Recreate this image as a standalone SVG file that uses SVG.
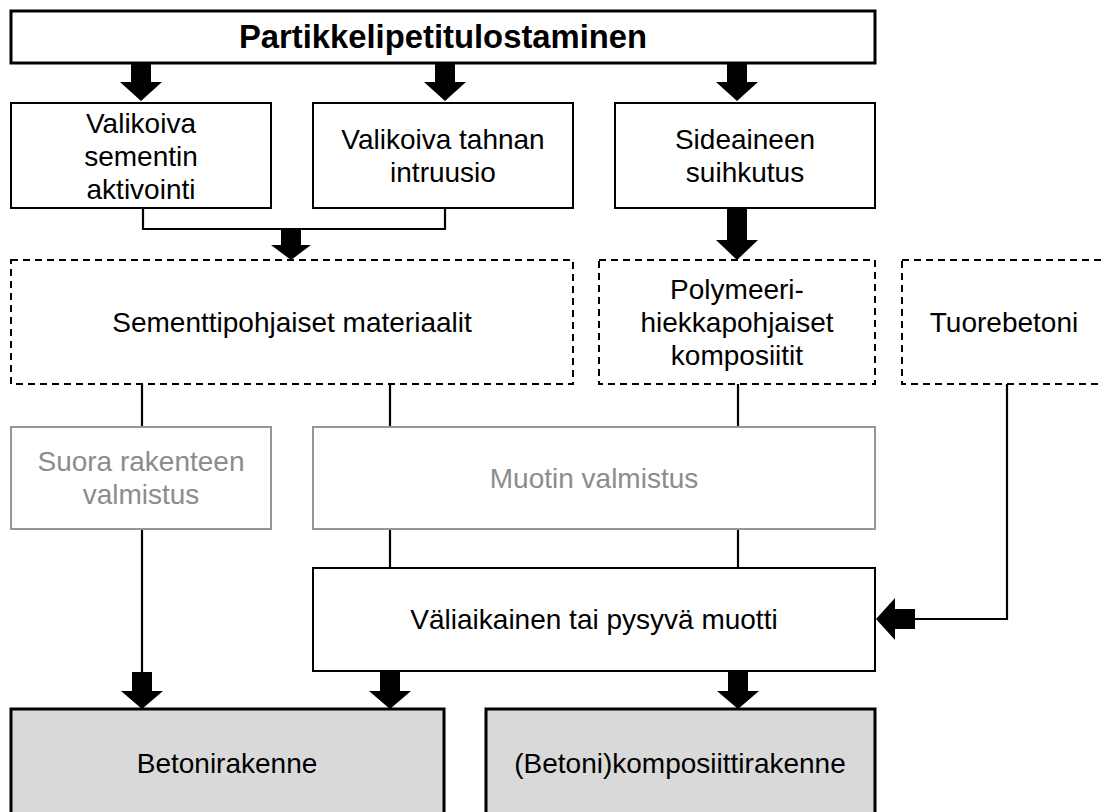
<svg xmlns="http://www.w3.org/2000/svg" width="1103" height="812" viewBox="0 0 1103 812">
<style>
text{font-family:"Liberation Sans",Arial,sans-serif;font-size:28px;fill:#000;text-anchor:middle}
.title{font-weight:bold;font-size:32.8px}
.box{fill:#fff;stroke:#000;stroke-width:2}
.thick{fill:#fff;stroke:#000;stroke-width:3}
.dash{fill:#fff;stroke:#000;stroke-width:2;stroke-dasharray:7 5}
.gray{fill:#fff;stroke:#969696;stroke-width:2}
.grayt{fill:#8c8c8c}
.result{fill:#d9d9d9;stroke:#000;stroke-width:3}
.line{fill:none;stroke:#000;stroke-width:2.2}
.arrow{fill:#000;stroke:none}
</style>
<rect width="1103" height="812" fill="#fff"/>
<g id="connectors">
<polyline class="line" points="143,208 143,229 445,229 445,208"/>
<line class="line" x1="142" y1="384" x2="142" y2="426"/>
<line class="line" x1="390" y1="384" x2="390" y2="426"/>
<line class="line" x1="738" y1="384" x2="738" y2="426"/>
<line class="line" x1="142" y1="529" x2="142" y2="673"/>
<line class="line" x1="390" y1="529" x2="390" y2="568"/>
<line class="line" x1="738" y1="529" x2="738" y2="568"/>
<polyline class="line" points="1007,384 1007,619 914,619"/>
<polygon class="arrow" points="131,63 151,63 151,82 162,82 141,101 120,82 131,82"/>
<polygon class="arrow" points="435,63 455,63 455,82 466,82 445,101 424,82 435,82"/>
<polygon class="arrow" points="727,63 747,63 747,82 758,82 737,101 716,82 727,82"/>
<polygon class="arrow" points="281,229 301,229 301,245 311,245 291,260 271,245 281,245"/>
<polygon class="arrow" points="727,208 747,208 747,240 758,240 737,260 716,240 727,240"/>
<polygon class="arrow" points="132,672 152,672 152,691 163,691 142,709 121,691 132,691"/>
<polygon class="arrow" points="380,671 400,671 400,691 411,691 390,709 369,691 380,691"/>
<polygon class="arrow" points="728,671 748,671 748,691 759,691 738,709 717,691 728,691"/>
<polygon class="arrow" points="915,609 915,629 895,629 895,640 876,619 895,598 895,609"/>
</g>
<g id="n-title">
<rect class="thick" x="11" y="11" width="864" height="52"/>
<text class="title" x="443" y="48">Partikkelipetitulostaminen</text>
</g>
<g id="n-aktivointi">
<rect class="box" x="11" y="103" width="260" height="105"/>
<text x="141" y="133">Valikoiva</text>
<text x="141" y="166">sementin</text>
<text x="141" y="199">aktivointi</text>
</g>
<g id="n-intruusio">
<rect class="box" x="313" y="103" width="260" height="105"/>
<text x="443" y="149">Valikoiva tahnan</text>
<text x="443" y="182">intruusio</text>
</g>
<g id="n-suihkutus">
<rect class="box" x="615" y="103" width="260" height="105"/>
<text x="745" y="149">Sideaineen</text>
<text x="745" y="182">suihkutus</text>
</g>
<g id="n-sementti">
<rect class="dash" x="11" y="260" width="562" height="124"/>
<text x="292" y="332">Sementtipohjaiset materiaalit</text>
</g>
<g id="n-polymeeri">
<rect class="dash" x="599" y="260" width="276" height="124"/>
<text x="737" y="299">Polymeeri-</text>
<text x="737" y="332">hiekkapohjaiset</text>
<text x="737" y="365">komposiitit</text>
</g>
<g id="n-tuorebetoni">
<rect class="dash" x="902" y="260" width="210" height="124"/>
<text x="1004" y="332">Tuorebetoni</text>
</g>
<g id="n-suora">
<rect class="gray" x="11" y="427" width="260" height="102"/>
<text class="grayt" x="141" y="471">Suora rakenteen</text>
<text class="grayt" x="141" y="504">valmistus</text>
</g>
<g id="n-muotin">
<rect class="gray" x="313" y="427" width="562" height="102"/>
<text class="grayt" x="594" y="488">Muotin valmistus</text>
</g>
<g id="n-muotti">
<rect class="box" x="313" y="568" width="562" height="103"/>
<text x="594" y="629">Väliaikainen tai pysyvä muotti</text>
</g>
<g id="n-betoni">
<rect class="result" x="11" y="709" width="433" height="120"/>
<text x="227" y="773">Betonirakenne</text>
</g>
<g id="n-komposiitti">
<rect class="result" x="486" y="709" width="389" height="120"/>
<text x="680" y="773">(Betoni)komposiittirakenne</text>
</g>
</svg>
